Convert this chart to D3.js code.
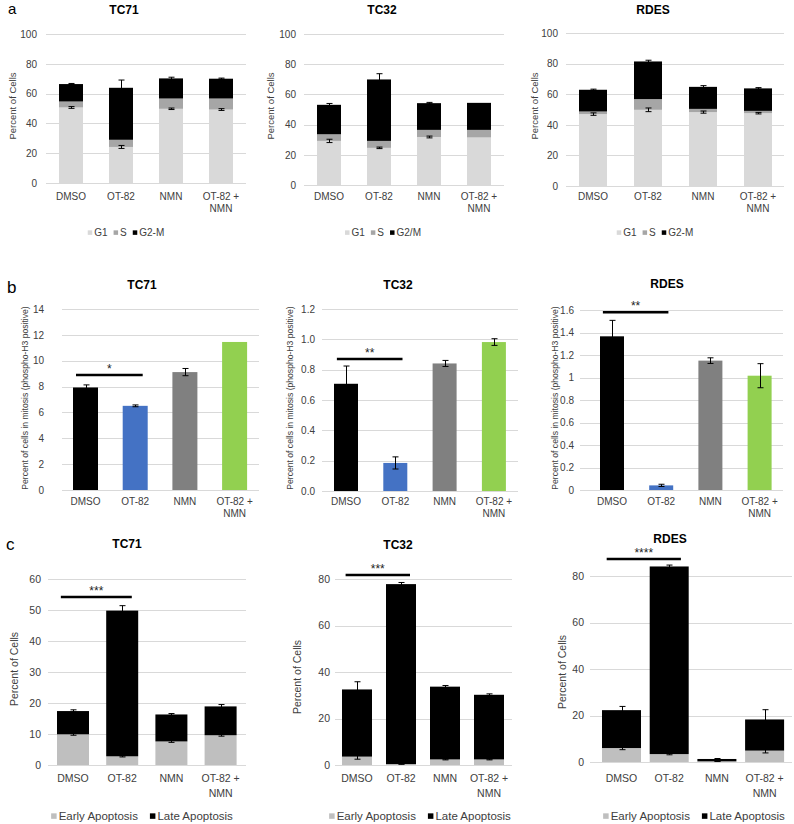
<!DOCTYPE html>
<html><head><meta charset="utf-8">
<script src="https://cdn.jsdelivr.net/npm/d3@7"></script>
<style>body{margin:0;background:#fff}svg{display:block;font-family:"Liberation Sans",Arial,sans-serif}</style>
</head><body><svg id="c" width="794" height="824"></svg>
<script>
// ---------- DATA ----------
const categories = ["DMSO", "OT-82", "NMN", "OT-82 + NMN"];

// Panel a: cell cycle (stacked)
const tc71_G1 = [50.7, 24.2, 49.8, 49.3];
const tc71_S = [4.0, 4.8, 6.9, 7.4];
const tc71_G2M = [11.7, 34.9, 13.5, 13.3];
const tc71_G1err = [0.6, 1.0, 0.5, 0.6];
const tc71_G2Merr = [0.4, 5.2, 0.8, 0.4];

const tc32_G1 = [29.2, 24.6, 31.8, 31.5];
const tc32_S = [4.4, 4.6, 4.7, 5.0];
const tc32_G2M = [19.5, 40.7, 17.7, 17.9];
const tc32_G1err = [1.1, 0.5, 0.6, 0];
const tc32_G2Merr = [0.9, 3.8, 0.5, 0];

const rdes_G1 = [47.0, 49.8, 48.3, 47.6];
const rdes_S = [1.7, 7.0, 2.1, 1.5];
const rdes_G2M = [14.2, 24.6, 14.4, 14.7];
const rdes_G1err = [0.8, 1.2, 0.7, 0.5];
const rdes_G2Merr = [0.4, 0.8, 0.8, 0.5];

const legendA_TC71 = ["G1", "S", "G2-M"];
const legendA_TC32 = ["G1", "S", "G2/M"];
const legendA_RDES = ["G1", "S", "G2-M"];

// Panel b: mitosis (phospho-H3)
const tc71_mitosis = [7.93, 6.51, 9.12, 11.45];
const tc71_mitosisErr = [0.2, 0.07, 0.28, 0];
const tc32_mitosis = [0.707, 0.185, 0.841, 0.982];
const tc32_mitosisErr = [0.117, 0.04, 0.02, 0.022];
const rdes_mitosis = [1.366, 0.041, 1.15, 1.016];
const rdes_mitosisErr = [0.142, 0.01, 0.025, 0.107];

// Panel c: apoptosis (stacked)
const tc71_early = [9.9, 2.8, 7.6, 9.6];
const tc71_late = [7.5, 47.0, 8.7, 9.3];
const tc71_earlyErr = [0.3, 0.2, 0.3, 0.3];
const tc71_lateErr = [0.4, 1.6, 0.3, 0.6];

const tc32_early = [3.6, 0.4, 2.4, 2.4];
const tc32_late = [28.9, 77.4, 31.3, 27.8];
const tc32_earlyErr = [1.1, 0.1, 0.2, 0.2];
const tc32_lateErr = [3.3, 0.7, 0.5, 0.4];

const rdes_early = [6.0, 3.4, 0.3, 4.9];
const rdes_late = [16.3, 80.7, 1.0, 13.4];
const rdes_earlyErr = [0.7, 0.3, 0.1, 1.0];
const rdes_lateErr = [1.6, 0.6, 0.2, 4.2];

const legendC = ["Early Apoptosis", "Late Apoptosis"];

// significance annotations: [value level, label]
const sigB = {TC71: [8.9, "*"], TC32: [0.87, "**"], RDES: [1.58, "**"]};
const sigC = {TC71: [54.2, "***"], TC32: [81.7, "***"], RDES: [87.3, "****"]};

// tick values
const ticksA = [0, 20, 40, 60, 80, 100];
const ticksB_TC71 = [0, 2, 4, 6, 8, 10, 12, 14];
const ticksB_TC32 = [0, 0.2, 0.4, 0.6, 0.8, 1.0, 1.2];
const ticksB_RDES = [0, 0.2, 0.4, 0.6, 0.8, 1, 1.2, 1.4, 1.6];
const ticksC_TC71 = [0, 10, 20, 30, 40, 50, 60];
const ticksC_80 = [0, 20, 40, 60, 80];

// ---------- STYLE ----------
const TXT = "#404040", GRID = "#d9d9d9";
const colA = ["#d9d9d9", "#a6a6a6", "#000000"];
const colB = ["#000000", "#4472c4", "#808080", "#92d050"];
const colC = ["#bfbfbf", "#000000"];

const svg = d3.select("#c");

function bandScale(L) {
  const pin = 1 - L.bw / L.step;
  const start = L.firstBar - (L.step - L.bw) / 2;
  return d3.scaleBand().domain(categories).range([start, start + 4 * L.step])
    .paddingInner(pin).paddingOuter(pin / 2);
}

function frame(L) {
  const g = svg.append("g");
  const x = bandScale(L);
  const y = d3.scaleLinear().domain(L.yDomain).range(L.yRange);
  g.append("g").selectAll("line").data(L.ticks.filter(t => t > 0)).join("line")
    .attr("x1", L.gridX[0]).attr("x2", L.gridX[1])
    .attr("y1", d => Math.round(y(d)) + 0.5).attr("y2", d => Math.round(y(d)) + 0.5)
    .attr("stroke", GRID).attr("stroke-width", 1);
  const ya = g.append("g").attr("transform", `translate(${L.tickX},0)`)
    .call(d3.axisLeft(y).tickValues(L.ticks).tickSize(0).tickPadding(0).tickFormat(L.fmt));
  ya.select(".domain").remove();
  ya.selectAll("text").attr("fill", TXT).attr("font-size", L.tickFs).attr("font-family", null);
  svg.append("text").attr("x", L.titleX).attr("y", L.titleY).attr("text-anchor", "middle")
    .attr("font-weight", "bold").attr("font-size", 12).attr("fill", "#000").text(L.title);
  svg.append("text").attr("transform", `translate(${L.ylabX},${L.ylabY}) rotate(-90)`)
    .attr("text-anchor", "middle").attr("dy", "0.35em").attr("font-size", L.ylabFs)
    .attr("fill", TXT).text(L.ylab);
  return {g, x, y};
}

function xAxis(g, x, y, L) {
  g.append("line").attr("x1", L.gridX[0]).attr("x2", L.gridX[1])
    .attr("y1", Math.round(y(0)) + 0.5).attr("y2", Math.round(y(0)) + 0.5)
    .attr("stroke", GRID).attr("stroke-width", 1);
  const xa = g.append("g").attr("transform", `translate(0,${L.catY})`)
    .call(d3.axisBottom(x).tickSize(0).tickPadding(0));
  xa.select(".domain").remove();
  xa.selectAll("text").each(function(d) {
    const t = d3.select(this).text("").attr("fill", TXT).attr("font-size", L.catFs)
      .attr("font-family", null).attr("dy", null).attr("y", 0);
    const lines = d.split(/(?<=\+) /);
    lines.forEach((ln, i) => t.append("tspan").attr("x", 0).attr("y", i * L.catLh).text(ln));
  });
}

function errBars(g, x, y, tops, errs, cap) {
  const data = tops.map((t, i) => ({c: categories[i], t, e: errs[i]})).filter(d => d.e > 0);
  const eg = g.append("g").attr("stroke", "#000").attr("stroke-width", 1);
  data.forEach(d => {
    const cx = Math.round(x(d.c) + x.bandwidth() / 2) + 0.5;
    const y1 = y(d.t + d.e), y2 = y(Math.max(0, d.t - d.e));
    eg.append("line").attr("x1", cx).attr("x2", cx).attr("y1", y1).attr("y2", y2);
    eg.append("line").attr("x1", cx - cap).attr("x2", cx + cap).attr("y1", y1).attr("y2", y1);
    eg.append("line").attr("x1", cx - cap).attr("x2", cx + cap).attr("y1", y2).attr("y2", y2);
  });
}

function stacked(L, series, errs, colors) {
  const {g, x, y} = frame(L);
  const cum = [0, 0, 0, 0];
  const tops = [];
  series.forEach((vals, si) => {
    const base = cum.slice();
    g.append("g").selectAll("rect").data(vals).join("rect")
      .attr("x", (d, i) => x(categories[i])).attr("width", x.bandwidth())
      .attr("y", (d, i) => y(base[i] + d)).attr("height", (d, i) => y(base[i]) - y(base[i] + d))
      .attr("fill", colors[si]);
    vals.forEach((v, i) => cum[i] += v);
    tops.push(cum.slice());
  });
  xAxis(g, x, y, L);
  series.forEach((vals, si) => { if (errs[si]) errBars(g, x, y, tops[si], errs[si], 3); });
  return {g, x, y};
}

function simple(L, vals, errs) {
  const {g, x, y} = frame(L);
  g.append("g").selectAll("rect").data(vals).join("rect")
    .attr("x", (d, i) => x(categories[i])).attr("width", x.bandwidth())
    .attr("y", d => y(d)).attr("height", d => y(0) - y(d))
    .attr("fill", (d, i) => colB[i]);
  xAxis(g, x, y, L);
  errBars(g, x, y, vals, errs, 3);
  return {g, x, y};
}

function sig(ctx, s) {
  const {g, x, y} = ctx;
  const bw = x.bandwidth();
  const x1 = x("DMSO") + 0.12 * bw, x2 = x("OT-82") + 0.8 * bw;
  const yy = y(s[0]);
  g.append("line").attr("x1", x1).attr("x2", x2).attr("y1", yy).attr("y2", yy)
    .attr("stroke", "#000").attr("stroke-width", 2.5);
  g.append("text").attr("x", (x1 + x2) / 2).attr("y", yy - 2).attr("text-anchor", "middle")
    .attr("font-size", 12).attr("fill", "#222").text(s[1]);
}

function legend(cx, cy, labels, colors, sq, fs, gap) {
  const lg = svg.append("g");
  let xo = 0;
  labels.forEach((lab, i) => {
    const it = lg.append("g");
    it.append("rect").attr("x", 0).attr("y", -sq / 2 - fs * 0.34).attr("width", sq).attr("height", sq).attr("fill", colors[i]);
    const t = it.append("text").attr("x", sq + 2).attr("y", 0).attr("font-size", fs).attr("fill", TXT).text(lab);
    const w = sq + 2 + t.node().getComputedTextLength();
    it.attr("transform", `translate(${xo},0)`);
    xo += w + gap;
  });
  const total = xo - gap;
  lg.attr("transform", `translate(${cx - total / 2},${cy})`);
}

// panel letters
[["a", 8, 14, 15], ["b", 7, 293, 17], ["c", 6, 550, 17]].forEach(([t, x, y, fs]) =>
  svg.append("text").attr("x", x).attr("y", y).attr("font-size", fs).attr("fill", "#000").text(t));

// ---------- PANEL A ----------
const baseA = {yDomain: [0, 100], ticks: ticksA, fmt: d3.format("d"), tickFs: 10, catFs: 10, catLh: 12,
  catY: 200, ylab: "Percent of Cells", ylabFs: 9.5, ylabY: 106, titleY: 14};
const LA1 = Object.assign({}, baseA, {title: "TC71", titleX: 124, yRange: [183, 34], gridX: [46, 246], firstBar: 59, step: 50, bw: 24, tickX: 37, ylabX: 13});
const LA2 = Object.assign({}, baseA, {title: "TC32", titleX: 382, yRange: [185, 34], gridX: [304, 504], firstBar: 317, step: 50, bw: 24, tickX: 296, ylabX: 271});
const LA3 = Object.assign({}, baseA, {title: "RDES", titleX: 653, yRange: [186, 33], gridX: [566, 784], firstBar: 579, step: 55, bw: 28, tickX: 558, ylabX: 535});
stacked(LA1, [tc71_G1, tc71_S, tc71_G2M], [tc71_G1err, null, tc71_G2Merr], colA);
stacked(LA2, [tc32_G1, tc32_S, tc32_G2M], [tc32_G1err, null, tc32_G2Merr], colA);
stacked(LA3, [rdes_G1, rdes_S, rdes_G2M], [rdes_G1err, null, rdes_G2Merr], colA);
legend(126, 236, legendA_TC71, colA, 4.5, 10, 6);
legend(383, 236, legendA_TC32, colA, 4.5, 10, 6);
legend(655, 236, legendA_RDES, colA, 4.5, 10, 6);

// ---------- PANEL B ----------
const baseB = {tickFs: 10, catFs: 10, catLh: 12, catY: 505, ylab: "Percent of cells in mitosis (phospho-H3 positive)", ylabFs: 8.6, ylabY: 398, titleY: 289};
const LB1 = Object.assign({}, baseB, {title: "TC71", titleX: 142, yDomain: [0, 14], ticks: ticksB_TC71, fmt: d3.format("d"), yRange: [490, 309], gridX: [62, 259], firstBar: 73, step: 49.7, bw: 25, tickX: 44, ylabX: 25});
const LB2 = Object.assign({}, baseB, {title: "TC32", titleX: 398, yDomain: [0, 1.2], ticks: ticksB_TC32, fmt: d3.format(".1f"), yRange: [491, 309], gridX: [322, 518], firstBar: 334, step: 49.3, bw: 24, tickX: 315, ylabX: 290});
const LB3 = Object.assign({}, baseB, {title: "RDES", titleX: 667, yDomain: [0, 1.6], ticks: ticksB_RDES, fmt: d => String(+d.toFixed(1)), yRange: [490, 310], gridX: [580, 783], firstBar: 600, step: 49.2, bw: 24, tickX: 574, ylabX: 555, titleY: 288});
sig(simple(LB1, tc71_mitosis, tc71_mitosisErr), sigB.TC71);
sig(simple(LB2, tc32_mitosis, tc32_mitosisErr), sigB.TC32);
sig(simple(LB3, rdes_mitosis, rdes_mitosisErr), sigB.RDES);

// ---------- PANEL C ----------
const baseC = {tickFs: 10.5, catFs: 10.5, catLh: 15, catY: 782, ylab: "Percent of Cells", ylabFs: 10.5, fmt: d3.format("d")};
const LC1 = Object.assign({}, baseC, {title: "TC71", titleX: 127, titleY: 548, yDomain: [0, 60], ticks: ticksC_TC71, yRange: [765, 579], gridX: [48, 246], firstBar: 57, step: 49.2, bw: 32, tickX: 41, ylabX: 14, ylabY: 669});
const LC2 = Object.assign({}, baseC, {title: "TC32", titleX: 398, titleY: 549, yDomain: [0, 80], ticks: ticksC_80, yRange: [765, 579], gridX: [335, 512], firstBar: 342, step: 44, bw: 30, tickX: 330, ylabX: 297, ylabY: 677});
const LC3 = Object.assign({}, baseC, {title: "RDES", titleX: 670, titleY: 543, yDomain: [0, 80], ticks: ticksC_80, yRange: [762, 576], gridX: [590, 792], firstBar: 602, step: 47.7, bw: 39, tickX: 584, ylabX: 562, ylabY: 672});
sig(stacked(LC1, [tc71_early, tc71_late], [tc71_earlyErr, tc71_lateErr], colC), sigC.TC71);
sig(stacked(LC2, [tc32_early, tc32_late], [tc32_earlyErr, tc32_lateErr], colC), sigC.TC32);
sig(stacked(LC3, [rdes_early, rdes_late], [rdes_earlyErr, rdes_lateErr], colC), sigC.RDES);
legend(142, 820, legendC, colC, 5.5, 11.5, 12);
legend(420, 820, legendC, colC, 5.5, 11.5, 12);
legend(694, 820, legendC, colC, 5.5, 11.5, 12);
</script></body></html>
